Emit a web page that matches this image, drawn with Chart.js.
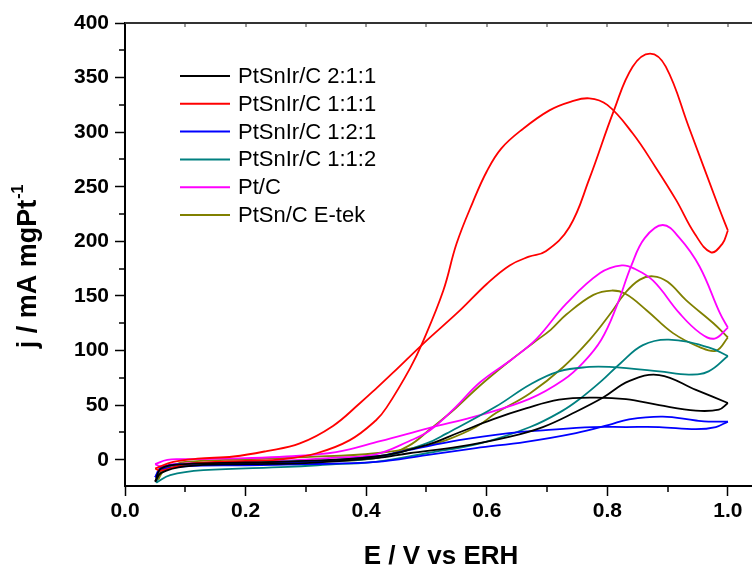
<!DOCTYPE html>
<html>
<head>
<meta charset="utf-8">
<script src="https://cdn.jsdelivr.net/npm/chart.js@4"></script>
<style>
  html, body { margin: 0; padding: 0; background: #fff; }
  canvas { display: block; }
</style>
</head>
<body>
<canvas id="cv" width="752" height="567"></canvas>
<script>
// series names and colours
const seriesLabels = ["PtSnIr/C 2:1:1", "PtSnIr/C 1:1:1", "PtSnIr/C 1:2:1", "PtSnIr/C 1:1:2", "Pt/C", "PtSn/C E-tek"];
const seriesColors = ["#000000", "#FF0000", "#0000FF", "#008080", "#FF00FF", "#808000"];

// tick labels
const xTicks = [0, 0.2, 0.4, 0.6, 0.8, 1.0];
const yTicks = [0, 50, 100, 150, 200, 250, 300, 350, 400];

// [E (V), j (mA/mgPt)] : forward scan and backward scan, each read left to right
const fwd211 = [[0.05, -20], [0.06, -12], [0.1, -6], [0.2, -4], [0.3, -3], [0.416, 1.5], [0.471, 6], [0.554, 12], [0.637, 21], [0.693, 30], [0.748, 44], [0.793, 57], [0.836, 72], [0.886, 77.6], [0.947, 64], [1.0, 52]];
const bwd211 = [[0.05, -20], [0.06, -8], [0.1, -4], [0.2, -2.5], [0.3, -1], [0.416, 3], [0.5, 13.5], [0.554, 25], [0.61, 37], [0.665, 47], [0.72, 55], [0.776, 57], [0.831, 55.6], [0.886, 50], [0.947, 45], [0.985, 46], [1.0, 52]];

const fwd111 = [[0.05, -8], [0.08, -2], [0.12, 1], [0.18, 3], [0.235, 8], [0.29, 15], [0.345, 31], [0.39, 52], [0.416, 65], [0.445, 80], [0.494, 106], [0.556, 137], [0.6, 161], [0.638, 178], [0.67, 186], [0.698, 191], [0.737, 213], [0.77, 257], [0.811, 320], [0.842, 360], [0.871, 372], [0.897, 360], [0.935, 305], [0.985, 231], [1.0, 210]];
const bwd111 = [[0.05, -8], [0.06, -10], [0.1, -4], [0.15, -2], [0.2, -1], [0.263, 0.6], [0.318, 6], [0.373, 18], [0.416, 36], [0.434, 48], [0.473, 84], [0.494, 108], [0.528, 155], [0.55, 198], [0.577, 236], [0.6, 264], [0.624, 285], [0.66, 303], [0.704, 320], [0.74, 328], [0.77, 331], [0.8, 325], [0.842, 299], [0.88, 268], [0.914, 238], [0.945, 207], [0.972, 190], [0.991, 198], [1.0, 210]];

const fwd121 = [[0.05, -16], [0.06, -9], [0.1, -6], [0.2, -5], [0.3, -4], [0.416, -2], [0.5, 4.3], [0.582, 10.7], [0.665, 16.5], [0.748, 24.5], [0.803, 32], [0.836, 37], [0.892, 39.5], [0.947, 36], [0.968, 35], [1.0, 35]];
const bwd121 = [[0.05, -16], [0.06, -7], [0.1, -4], [0.2, -3], [0.3, -2], [0.416, 3], [0.471, 9], [0.554, 18], [0.637, 24.4], [0.693, 27], [0.776, 30], [0.831, 30], [0.886, 30], [0.947, 28], [0.98, 30], [1.0, 35]];

const fwd112 = [[0.052, -21], [0.075, -14], [0.13, -9.5], [0.27, -6.5], [0.35, -4], [0.416, -2], [0.5, 6], [0.589, 15], [0.672, 30], [0.726, 45], [0.755, 56], [0.79, 72], [0.821, 88], [0.859, 105], [0.902, 110], [0.968, 103], [1.0, 95]];
const bwd112 = [[0.052, -21], [0.06, -8], [0.1, -4], [0.2, -2.5], [0.3, -1], [0.416, 1.5], [0.5, 15], [0.533, 24], [0.616, 49], [0.672, 69], [0.72, 81], [0.77, 85], [0.803, 85], [0.886, 81], [0.935, 78], [0.968, 81], [1.0, 95]];

const fwdPt = [[0.05, -4], [0.07, 0], [0.1, 0.5], [0.2, 1.5], [0.268, 3], [0.35, 7], [0.423, 17], [0.504, 29], [0.589, 41], [0.672, 56], [0.727, 73], [0.76, 89], [0.79, 110], [0.815, 140], [0.84, 178], [0.862, 203], [0.892, 215], [0.92, 203], [0.953, 177], [0.987, 134], [1.0, 121]];
const bwdPt = [[0.05, -4], [0.06, -6], [0.08, -4], [0.15, -2.5], [0.25, -1], [0.35, 2], [0.416, 5], [0.471, 17], [0.506, 27], [0.548, 48], [0.589, 71], [0.644, 93], [0.683, 111], [0.732, 143], [0.788, 171], [0.824, 178], [0.845, 175], [0.876, 164], [0.92, 134], [0.954, 116], [0.978, 111], [1.0, 121]];

const fwdSn = [[0.055, -18], [0.06, -10], [0.08, -5], [0.1, -2], [0.2, 0.5], [0.3, 2.5], [0.416, 6], [0.5, 13], [0.533, 18], [0.582, 30], [0.616, 43], [0.672, 61], [0.727, 85], [0.771, 110], [0.804, 133], [0.83, 153], [0.854, 165], [0.876, 168], [0.9, 163], [0.931, 146], [0.976, 125], [1.0, 112]];
const bwdSn = [[0.055, -18], [0.065, -10], [0.1, -5], [0.2, -3], [0.3, -1.5], [0.416, 1.5], [0.471, 13], [0.506, 28], [0.548, 47], [0.589, 68], [0.637, 90], [0.677, 107], [0.706, 119], [0.732, 133], [0.777, 151], [0.807, 155], [0.83, 152], [0.865, 137], [0.909, 116], [0.954, 103], [0.981, 100], [1.0, 112]];

const forwardScans = [fwd211, fwd111, fwd121, fwd112, fwdPt, fwdSn];
const backwardScans = [bwd211, bwd111, bwd121, bwd112, bwdPt, bwdSn];

const FONT = "'Liberation Sans', Arial, sans-serif";

function toPoints(arr) {
	return arr.map((p) => ({ x: p[0], y: p[1] }));
}

const datasets = [];
seriesLabels.forEach((label, i) => {
	datasets.push({ label: label, data: toPoints(forwardScans[i]), borderColor: seriesColors[i], legend: true });
	datasets.push({ label: label, data: toPoints(backwardScans[i]), borderColor: seriesColors[i], legend: false });
});

// minor ticks, top axis, legend and axis titles
const framePlugin = {
	id: "frame",
	afterDraw(chart) {
		const { ctx, chartArea: a, scales } = chart;
		const x = scales.x;
		const y = scales.y;
		ctx.save();
		ctx.strokeStyle = "#000";
		ctx.lineWidth = 1.5;

		// bottom minor ticks
		[0.1, 0.3, 0.5, 0.7, 0.9].forEach((v) => {
			const px = Math.round(x.getPixelForValue(v));
			ctx.beginPath();
			ctx.moveTo(px, a.bottom);
			ctx.lineTo(px, a.bottom + 6);
			ctx.stroke();
		});
		// left minor ticks
		for (let v = 25; v < 400; v += 50) {
			const py = Math.round(y.getPixelForValue(v));
			ctx.beginPath();
			ctx.moveTo(a.left, py);
			ctx.lineTo(a.left - 6, py);
			ctx.stroke();
		}
		// top axis
		ctx.strokeStyle = "#333";
		ctx.lineWidth = 2;
		ctx.beginPath();
		ctx.moveTo(a.left, a.top);
		ctx.lineTo(a.right, a.top);
		ctx.stroke();
		ctx.lineWidth = 1;
		for (let k = 1; k <= 10; k++) {
			const px = Math.round(x.getPixelForValue(k / 10));
			ctx.beginPath();
			ctx.moveTo(px, a.top);
			ctx.lineTo(px, a.top + 4);
			ctx.stroke();
		}

		// legend
		ctx.font = "22px " + FONT;
		ctx.textBaseline = "middle";
		ctx.textAlign = "left";
		ctx.fillStyle = "#000";
		chart.data.datasets
			.filter((ds) => ds.legend)
			.forEach((ds, i) => {
				const ly = 76 + i * 27.8;
				ctx.strokeStyle = ds.borderColor;
				ctx.lineWidth = 2;
				ctx.beginPath();
				ctx.moveTo(180, ly);
				ctx.lineTo(230, ly);
				ctx.stroke();
				ctx.fillText(ds.label, 238, ly + 1);
			});

		// x title
		ctx.font = "bold 26px " + FONT;
		ctx.textAlign = "center";
		ctx.fillText("E / V vs ERH", 441, 557);

		// y title with superscript
		ctx.translate(29, 267);
		ctx.rotate(-Math.PI / 2);
		const main = "j / mA mgPt";
		const sup = "-1";
		ctx.font = "bold 27px " + FONT;
		const w1 = ctx.measureText(main).width;
		ctx.font = "bold 16px " + FONT;
		const w2 = ctx.measureText(sup).width;
		const x0 = -(w1 + w2) / 2;
		ctx.textAlign = "left";
		ctx.font = "bold 27px " + FONT;
		ctx.fillText(main, x0, 0);
		ctx.font = "bold 16px " + FONT;
		ctx.fillText(sup, x0 + w1 + 1, -10);
		ctx.restore();
	},
};

const config = {
	type: "scatter",
	data: { datasets: datasets },
	options: {
		responsive: false,
		animation: false,
		showLine: true,
		layout: { padding: { top: 23, right: 0, left: 0, bottom: 0 } },
		elements: {
			point: { radius: 0 },
			line: { borderWidth: 1.8, tension: 0.4, fill: false },
		},
		plugins: {
			legend: { display: false },
			tooltip: { enabled: false },
		},
		scales: {
			x: {
				type: "linear",
				min: 0,
				max: 1.04,
				afterBuildTicks: (scale) => {
					scale.ticks = xTicks.map((v) => ({ value: v }));
				},
				afterFit: (scale) => {
					scale.height = 81;
				},
				ticks: {
					callback: (v) => Number(v).toFixed(1),
					font: { family: FONT, size: 21, weight: "bold" },
					color: "#000",
					padding: 3,
					maxRotation: 0,
				},
				grid: { drawOnChartArea: false, tickLength: 10, tickWidth: 1.5, tickColor: "#000" },
				border: { display: true, width: 2, color: "#000" },
			},
			y: {
				type: "linear",
				min: -24,
				max: 400,
				afterBuildTicks: (scale) => {
					scale.ticks = yTicks.map((v) => ({ value: v }));
				},
				afterFit: (scale) => {
					scale.width = 125;
				},
				ticks: {
					callback: (v) => String(v),
					font: { family: FONT, size: 21, weight: "bold" },
					color: "#000",
					padding: 6,
				},
				grid: { drawOnChartArea: false, tickLength: 10, tickWidth: 1.5, tickColor: "#000" },
				border: { display: true, width: 2, color: "#000" },
			},
		},
	},
	plugins: [framePlugin],
};

new Chart(document.getElementById("cv"), config);
</script>
</body>
</html>
